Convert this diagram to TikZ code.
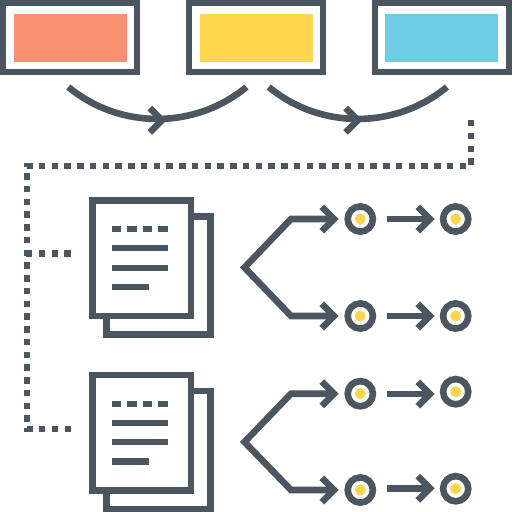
\documentclass[tikz,border=0pt]{standalone}
\definecolor{ink}{HTML}{4B5661}
\definecolor{salmon}{HTML}{F9906F}
\definecolor{sun}{HTML}{FFD54F}
\definecolor{sky}{HTML}{6FCDE3}
\tikzset{
  ln/.style={draw=ink,line width=6.3pt,miter limit=10},
  bold/.style={draw=ink,line width=6.6pt,miter limit=10},
  frame/.style={ln,fill=white,rectangle,inner sep=0pt,outer sep=0pt,minimum width=133.8pt,minimum height=69.3pt},
  swatch/.style={rectangle,inner sep=0pt,outer sep=0pt,minimum width=112.7pt,minimum height=47.5pt},
  sheet/.style={ln,fill=white,rectangle,inner sep=0pt,outer sep=0pt,minimum width=98.5pt,minimum height=115.5pt},
  ring/.style={bold,fill=white,circle,inner sep=0pt,outer sep=0pt,minimum size=25.2pt},
  seed/.style={fill=sun,circle,inner sep=0pt,outer sep=0pt,minimum size=11pt},
  dots/.style={draw=ink,line width=6.4pt,dash pattern=on 6.4pt off 6.35pt},
  textdash/.style={draw=ink,line width=6.3pt,dash pattern=on 9.3pt off 6.15pt}
}
\newcommand{\chev}[1]{\draw[bold] (#1) ++(-12.2,-12.2) -- (#1) -- ++(-12.2,12.2);}
\newcommand{\docsheet}[2]{
  \draw[ln] (191,216.5+#2) -- (210.5,216.5+#2) -- (210.5,334.5+#2) -- (106.5,334.5+#2) -- (106.5,316+#2);
  \node[sheet] (#1) at (141.75,258.25+#2) {};
  \draw[textdash] (112,229.3+#2) -- (167.7,229.3+#2);
  \draw[ln] (112,248.3+#2) -- (167.7,248.3+#2);
  \draw[ln] (112,267.7+#2) -- (167.7,267.7+#2);
  \draw[ln] (112,287+#2) -- (149.3,287+#2);
}
\begin{document}
\begin{tikzpicture}[x=1pt,y=-1pt]
\useasboundingbox (0,0) rectangle (512,512);
\node[frame] (f1) at (70.1,37.65) {};
\node[frame] (f2) at (256,37.65) {};
\node[frame] (f3) at (442,37.65) {};
\node[swatch,fill=salmon] (s1) at (70.2,37.75) {};
\node[swatch,fill=sun] (s2) at (256.2,37.75) {};
\node[swatch,fill=sky] (s3) at (441.7,37.75) {};
% curved links
\coordinate (a1) at (68.3,87); \coordinate (b1) at (246.5,87);
\coordinate (a2) at (268.7,87); \coordinate (b2) at (446.9,87);
\coordinate (t1) at (162,120.2); \coordinate (t2) at (357.8,120.2);
\draw[bold] (a1) .. controls (119.9,129.6) and (194.9,129.6) .. (b1);
\draw[bold] (a2) .. controls (320.3,129.6) and (395.3,129.6) .. (b2);
\chev{t1} \chev{t2}
% dotted connector
\coordinate (d0) at (471,120); \coordinate (d1) at (471,166); \coordinate (d2) at (26.9,166);
\coordinate (d3) at (26.9,428.7); \coordinate (d4) at (71,428.7);
\draw[dots] (d0) -- (d1) -- (d2) -- (d3) -- (d4);
\coordinate (e0) at (26,253.4); \coordinate (e1) at (71,253.4);
\draw[dots] (e0) -- (e1);
% documents
\docsheet{doc1}{0}
\docsheet{doc2}{174.4}
% upper fork
\coordinate (ap1) at (244.5,267.5); \coordinate (el1) at (291,219); \coordinate (el2) at (291,316);
\coordinate (tp1) at (334,219); \coordinate (tp2) at (334,316);
\draw[bold] (tp1) -- (el1) -- (ap1) -- (el2) -- (tp2);
\chev{tp1} \chev{tp2}
\node[ring] (c1) at (360.3,219) {}; \node[seed] at (c1) {};
\node[ring] (c2) at (455.7,219) {}; \node[seed] at (c2) {};
\node[ring] (c3) at (360.3,316) {}; \node[seed] at (c3) {};
\node[ring] (c4) at (455.7,316) {}; \node[seed] at (c4) {};
\coordinate (u1) at (386.7,219); \coordinate (v1) at (430,219);
\coordinate (u2) at (386.7,316); \coordinate (v2) at (430,316);
\draw[bold] (u1) -- (v1); \chev{v1}
\draw[bold] (u2) -- (v2); \chev{v2}
% lower fork
\coordinate (ap2) at (244.5,442); \coordinate (el3) at (291,393.7); \coordinate (el4) at (291,490);
\coordinate (tp3) at (334,393.7); \coordinate (tp4) at (334,490);
\draw[bold] (tp3) -- (el3) -- (ap2) -- (el4) -- (tp4);
\chev{tp3} \chev{tp4}
\node[ring] (c5) at (360.3,393.7) {}; \node[seed] at (c5) {};
\node[ring] (c6) at (455.7,391.7) {}; \node[seed] at (c6) {};
\node[ring] (c7) at (360.3,490) {}; \node[seed] at (c7) {};
\node[ring] (c8) at (455.7,488.7) {}; \node[seed] at (c8) {};
\coordinate (u3) at (386.7,394) ; \coordinate (v3) at (430,394);
\coordinate (u4) at (386.7,488.3); \coordinate (v4) at (430,488.3);
\draw[bold] (u3) -- (v3); \chev{v3}
\draw[bold] (u4) -- (v4); \chev{v4}
\end{tikzpicture}
\end{document}
